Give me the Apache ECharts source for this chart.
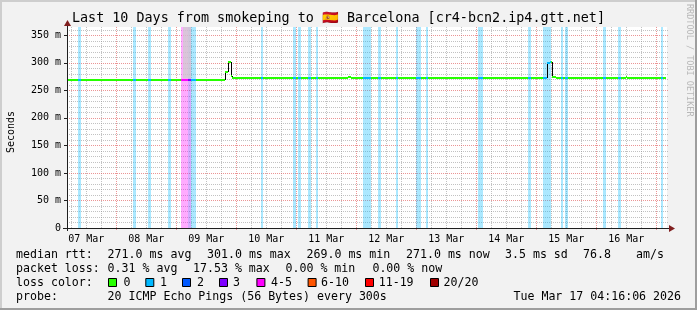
<!DOCTYPE html>
<html><head><meta charset="utf-8">
<script src="https://cdn.jsdelivr.net/npm/echarts@6/dist/echarts.min.js"></script>
<style>html,body{margin:0;padding:0;background:#f2f2f2}#c{width:697px;height:310px}</style>
</head><body><div id="c"></div>
<script>
// ---- data (x in hours since 07 Mar 00:00, y in ms) ----
const T0 = 4.2683, T1 = 244.2683;
const Y_MAX = 365;
const dayLabels = ['07 Mar','08 Mar','09 Mar','10 Mar','11 Mar','12 Mar','13 Mar','14 Mar','15 Mar','16 Mar'];
const yTickValues = [0,50,100,150,200,250,300,350];
const medianHours = [4.27, 67.59, 68.55, 69.75, 70.39, 116.79, 117.75, 196.39, 197.59, 198.39, 199.75, 227.87, 228.39, 243.75];
const medianMs    = [269,  283,   301,   275.5, 271.8, 274.5,  271.8,  299.5,  301,    274.5,  271.8,  274.5,  271.8,  271.8];
const lossStart = [8.55, 30.55, 36.55, 44.55, 49.87, 52.67, 53.75, 81.87, 94.67, 96.47, 100.55, 103.75, 122.55, 128.55, 135.75, 143.75, 147.75, 168.55, 188.55, 194.67, 201.87, 203.47, 218.67, 224.55, 241.75];
const lossEnd   = [9.87, 31.75, 37.87, 45.87, 52.67, 53.75, 55.87, 82.67, 95.67, 97.87, 101.87, 104.67, 125.87, 129.87, 136.67, 145.87, 148.67, 170.55, 189.87, 197.87, 202.67, 204.55, 219.87, 225.87, 242.79];
const lossLevel = [1,1,1,1,4,3,1,1,1,1,1,1,1,1,1,1,1,1,1,1,1,1,1,1,1];
const smokeStart = [50.79], smokeEnd = [53.75], smokeLow = [272], smokeHigh = [365];
const lossLabels = ['0','1','2','3','4-5','6-10','11-19','20/20'];
const lossColors = ['#26ff00','#00b8ff','#0059ff','#7e00ff','#ff00ff','#ff5500','#ff0000','#a00000'];
const statsRtt = ['271.0 ms avg','301.0 ms max','269.0 ms min','271.0 ms now','3.5 ms sd','76.8','am/s'];
const statsLoss = ['0.31 % avg','17.53 % max','0.00 % min','0.00 % now'];
const probeText = '20 ICMP Echo Pings (56 Bytes) every 300s';
const dateText = 'Tue Mar 17 04:16:06 2026';
const titleText = 'Last 10 Days from smokeping to 🇪🇸 Barcelona [cr4-bcn2.ip4.gtt.net]';

// ---- layout ----
const MONO = 'DejaVu Sans Mono';
const rttX = [107.6, 207, 306.5, 406, 505, 583, 636];
const lossX = [107.6, 193, 285.5, 372.4];
const boxX = [108, 145.3, 182, 219, 256.4, 307.6, 365, 430];
const boxLabelX = [123.6, 160, 197, 233, 271, 321, 378.7, 443.6];
const L1 = 255, L2 = 269, L3 = 283, L4 = 297;

function hexA(hex, a){const n=parseInt(hex.slice(1),16);return `rgba(${n>>16},${(n>>8)&255},${n&255},${a})`;}

const vLines = []; for (let h = Math.ceil(T0/6)*6; h <= T1; h += 6) vLines.push([h, h % 24 === 0 ? 1 : 0]);
const hLines = []; for (let v = 10; v <= 360; v += 10) hLines.push([v, v % 50 === 0 ? 1 : 0]);

const segs = [];
for (let i = 0; i < medianHours.length - 1; i++) segs.push([medianHours[i], medianHours[i+1], medianMs[i], 0]);
const colored = segs.slice();
lossStart.forEach((s, k) => {
  const e = lossEnd[k];
  segs.forEach(sg => { const a = Math.max(s, sg[0]), b = Math.min(e, sg[1]); if (b > a) colored.push([a, b, sg[2], lossLevel[k]]); });
});
const risers = [];
for (let i = 1; i < medianHours.length; i++) if (medianMs[i] !== medianMs[i-1]) risers.push([medianHours[i], medianMs[i-1], medianMs[i]]);

const chart = echarts.init(document.getElementById('c'), null, {renderer:'canvas'});
const crisp = x => Math.round(x) + 0.5;

const g = [];
g.push({type:'rect', shape:{x:0,y:0,width:697,height:310}, style:{fill:'#f2f2f2'}, silent:true, z:-10});
g.push({type:'rect', shape:{x:0,y:0,width:697,height:2}, style:{fill:'#cecece'}, z:-9});
g.push({type:'rect', shape:{x:0,y:0,width:2,height:310}, style:{fill:'#cecece'}, z:-9});
g.push({type:'rect', shape:{x:0,y:308,width:697,height:2}, style:{fill:'#9e9e9e'}, z:-9});
g.push({type:'rect', shape:{x:695,y:0,width:2,height:310}, style:{fill:'#9e9e9e'}, z:-9});
g.push({type:'text', x:72, y:19, style:{text:titleText, font:`13.4px "${MONO}"`, fill:'#000', verticalAlign:'middle'}, z:10});
g.push({type:'text', x:689, y:4, rotation:-Math.PI/2, style:{text:'RRDTOOL / TOBI OETIKER', font:`8.5px "${MONO}"`, fill:'#b8b8b8', verticalAlign:'middle'}, z:10});
g.push({type:'text', x:11, y:132, rotation:Math.PI/2, style:{text:'Seconds', font:`10px "${MONO}"`, fill:'#000', verticalAlign:'middle', align:'center'}, z:10});
g.push({type:'line', shape:{x1:63, y1:228.5, x2:671, y2:228.5}, style:{stroke:'#1f1f1f', lineWidth:1}, z:20});
g.push({type:'line', shape:{x1:67.5, y1:231, x2:67.5, y2:25}, style:{stroke:'#1f1f1f', lineWidth:1}, z:20});
g.push({type:'polygon', shape:{points:[[669,225],[675,228.5],[669,232]]}, style:{fill:'#801f1f'}, z:21});
g.push({type:'polygon', shape:{points:[[64,26],[67.5,20],[71,26]]}, style:{fill:'#801f1f'}, z:21});
const txt = (x, y, t) => ({type:'text', x, y, style:{text:t, font:`11.6px "${MONO}"`, fill:'#000', verticalAlign:'middle'}, z:10});
g.push(txt(16, L1, 'median rtt:'));
statsRtt.forEach((t,i) => g.push(txt(rttX[i], L1, t)));
g.push(txt(16, L2, 'packet loss:'));
statsLoss.forEach((t,i) => g.push(txt(lossX[i], L2, t)));
g.push(txt(16, L3, 'loss color:'));
lossLabels.forEach((t,i) => {
  g.push({type:'rect', shape:{x:boxX[i]+0.5, y:278.5, width:8, height:8}, style:{fill:lossColors[i], stroke:'#000', lineWidth:1}, z:10});
  g.push(txt(boxLabelX[i], L3, t));
});
g.push(txt(16, L4, 'probe:'));
g.push(txt(107.6, L4, probeText));
g.push({type:'text', x:681, y:L4, style:{text:dateText, font:`11.6px "${MONO}"`, fill:'#000', verticalAlign:'middle', align:'right'}, z:10});

chart.setOption({
  animation:false,
  backgroundColor:'#f2f2f2',
  grid:{left:67, right:30, top:27, bottom:82, show:true, backgroundColor:'#ffffff', borderWidth:0, containLabel:false, outerBoundsMode:'none'},
  xAxis:{type:'value', min:T0, max:T1, axisLine:{show:false}, axisTick:{show:false}, splitLine:{show:false},
    axisLabel:{customValues:dayLabels.map((_, i) => 12 + 24*i), formatter:v => dayLabels[Math.round((v-12)/24)], fontFamily:MONO, fontSize:10, color:'#000', margin:6}},
  yAxis:{type:'value', min:0, max:Y_MAX, axisLine:{show:false}, splitLine:{show:false},
    axisTick:{show:true, customValues:yTickValues, length:3, lineStyle:{color:'#1f1f1f'}},
    axisLabel:{customValues:yTickValues, formatter:v => v === 0 ? '0' : v + ' m', fontFamily:MONO, fontSize:10, color:'#000', margin:6}},
  graphic:g,
  series:[
    {type:'custom', clip:false, z:1, silent:true, data:vLines, renderItem:(p, api) => {
      const h = api.value(0), major = api.value(1);
      const a = api.coord([h, 0]), b = api.coord([h, Y_MAX]); const x = crisp(a[0]);
      return {type:'line', shape:{x1:x, y1:a[1] + (major ? 2 : 0), x2:x, y2:b[1]}, style:{stroke: major ? 'rgba(222,79,79,0.6)' : 'rgba(143,143,143,0.55)', lineWidth:1, lineDash:[1,1]}};
    }},
    {type:'custom', clip:false, z:1, silent:true, data:hLines, renderItem:(p, api) => {
      const v = api.value(0), major = api.value(1);
      const a = api.coord([T0, v]), b = api.coord([T1, v]); const y = crisp(a[1]);
      return {type:'line', shape:{x1:a[0], y1:y, x2:b[0] + 2, y2:y}, style:{stroke: major ? 'rgba(222,79,79,0.6)' : 'rgba(143,143,143,0.55)', lineWidth:1, lineDash:[1,1]}};
    }},
    {type:'custom', z:2, silent:true, data:lossStart.map((s,i) => [s, lossEnd[i], lossLevel[i]]), renderItem:(p, api) => {
      const a = api.coord([api.value(0), Y_MAX]), b = api.coord([api.value(1), 0]);
      const x0 = Math.round(a[0]), x1 = Math.round(b[0]);
      return {type:'rect', shape:{x:x0, y:a[1], width:Math.max(1, x1 - x0), height:b[1] - a[1]}, style:{fill:hexA(lossColors[api.value(2)], 0.33)}};
    }},
    {type:'custom', z:3, silent:true, data:smokeStart.map((s,i) => [s, smokeEnd[i], smokeLow[i], smokeHigh[i]]), renderItem:(p, api) => {
      const a = api.coord([api.value(0), api.value(3)]), b = api.coord([api.value(1), api.value(2)]);
      const x0 = Math.round(a[0]), x1 = Math.round(b[0]);
      return {type:'rect', shape:{x:x0, y:a[1], width:x1 - x0, height:b[1] - a[1]}, style:{fill:'rgba(205,205,205,0.75)'}};
    }},
    {type:'custom', z:4, silent:true, data:risers, renderItem:(p, api) => {
      const a = api.coord([api.value(0), api.value(1)]), b = api.coord([api.value(0), api.value(2)]);
      const x = crisp(a[0]);
      return {type:'line', shape:{x1:x, y1:Math.round(a[1]), x2:x, y2:Math.round(b[1])}, style:{stroke:'#000', lineWidth:1}};
    }},
    {type:'custom', z:5, silent:true, data:colored, renderItem:(p, api) => {
      const a = api.coord([api.value(0), api.value(2)]), b = api.coord([api.value(1), api.value(2)]);
      const y = Math.round(a[1]);
      return {type:'line', shape:{x1:Math.round(a[0]), y1:y, x2:Math.round(b[0]), y2:y}, style:{stroke:lossColors[api.value(3)], lineWidth:2}};
    }}
  ]
});
</script></body></html>
